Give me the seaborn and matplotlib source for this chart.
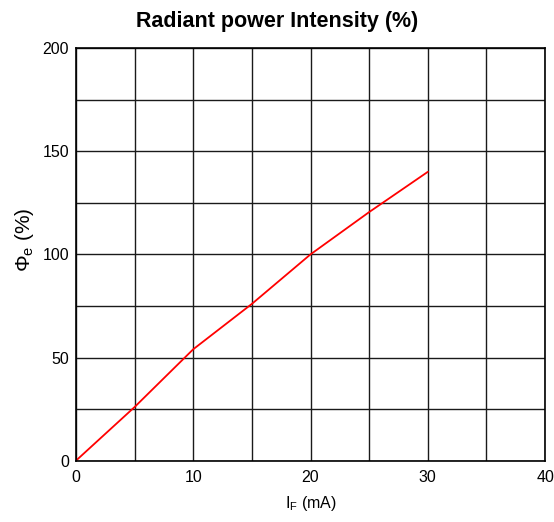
import numpy as np
import pandas as pd
import matplotlib
matplotlib.use("Agg")
import matplotlib.pyplot as plt
from matplotlib.ticker import MultipleLocator
import seaborn as sns

# forward current (mA) vs relative radiant power (%)
current_ma = [0, 5, 10, 15, 20, 25, 30]
radiant_pct = [0, 26, 54, 76, 100, 120.5, 140]

x_ticks = [0, 10, 20, 30, 40]
y_ticks = [0, 50, 100, 150, 200]

df = pd.DataFrame({"I_F": current_ma, "Phi_e": radiant_pct})

sns.set_style("white")
plt.rcParams["font.family"] = ["Liberation Sans", "DejaVu Sans"]
plt.rcParams["mathtext.fontset"] = "custom"
plt.rcParams["mathtext.rm"] = "Liberation Sans"
plt.rcParams["mathtext.it"] = "Liberation Sans"
plt.rcParams["text.color"] = "black"
plt.rcParams["axes.labelcolor"] = "black"

fig = plt.figure(figsize=(5.54, 5.22), dpi=100)
ax = fig.add_axes([0.137, 0.1174, 0.847, 0.7906])

sns.lineplot(data=df, x="I_F", y="Phi_e", color="#ff0000", linewidth=1.3, ax=ax)

ax.set_xlim(0, 40)
ax.set_ylim(0, 200)
ax.set_xticks(x_ticks)
ax.set_yticks(y_ticks)
ax.xaxis.set_minor_locator(MultipleLocator(5))
ax.yaxis.set_minor_locator(MultipleLocator(25))
ax.grid(which="both", color="#1a1a1a", linewidth=1.0)
ax.set_axisbelow(True)
ax.tick_params(which="both", length=0, labelsize=11.5, colors="black")
ax.tick_params(axis="x", pad=7)
ax.tick_params(axis="y", pad=5)
for s in ax.spines.values():
    s.set_color("black")
    s.set_linewidth(1.2)

ax.set_xlabel(r"I$_{\rm F}$ (mA)", fontsize=11.5, labelpad=6)
ax.set_ylabel(r"$\Phi_{\rm e}$ (%)", fontsize=15)
ax.yaxis.set_label_coords(-0.085, 0.535)

fig.suptitle("Radiant power Intensity (%)", x=0.5, y=0.958, va="center",
             fontsize=15.5, fontweight="bold", color="black")

fig.savefig("out.png", dpi=100)
